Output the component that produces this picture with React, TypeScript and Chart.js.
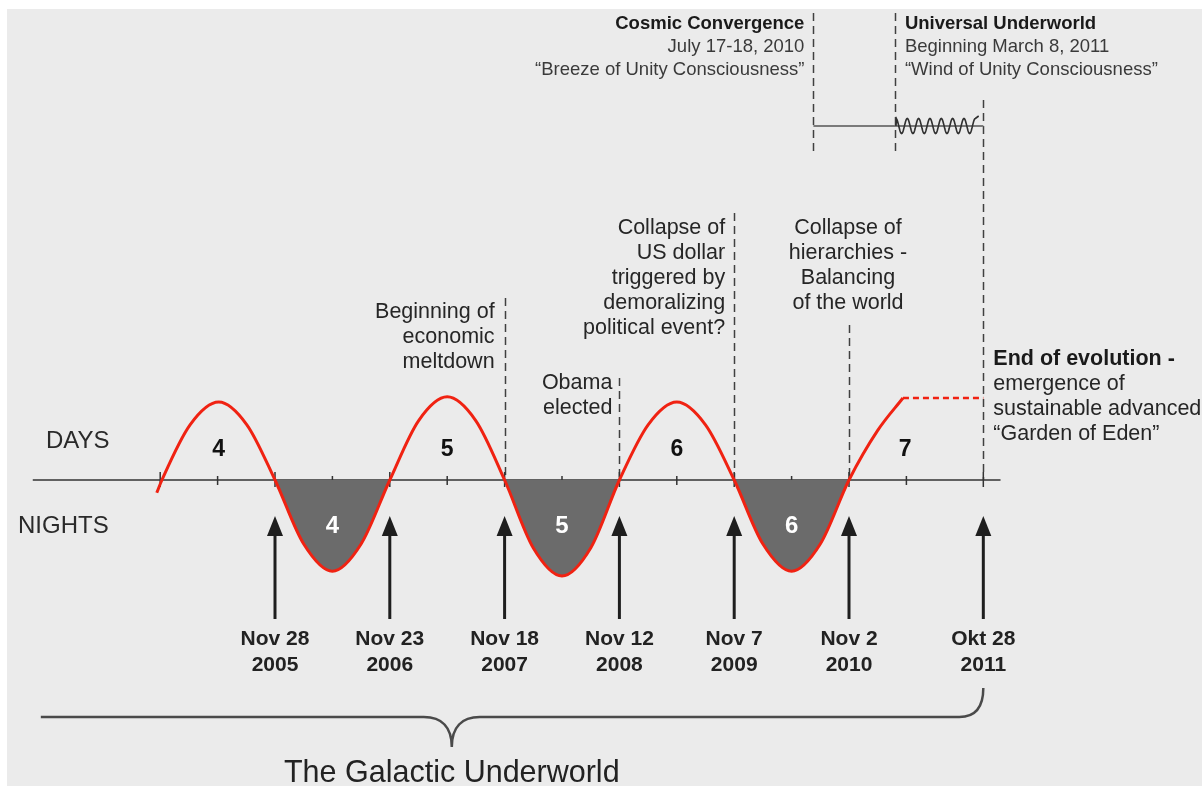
import React, { useEffect, useRef } from 'react';
import { Chart, registerables } from 'chart.js';

Chart.register(...registerables);

// ---- data (x in cycle units: one day or night ≈ one unit; 0 = Nov 28 2005) ----
const cycleX = [-1.03, -0.985, -0.74, -0.49, -0.245, 0, 0.25, 0.5, 0.75, 1, 1.25, 1.5, 1.75, 2, 2.25, 2.5, 2.75, 3, 3.25, 3.5, 3.75, 4, 4.25, 4.5, 4.75, 5, 5.25, 5.47];
const cycleY = [-0.16, 0, 0.69, 0.975, 0.69, 0, -0.8, -1.14, -0.8, 0, 0.74, 1.04, 0.74, 0, -0.85, -1.2, -0.85, 0, 0.69, 0.975, 0.69, 0, -0.8, -1.14, -0.8, 0, 0.62, 1.025];
const plateauX = [5.47, 6.17];
const plateauY = [1.025, 1.025];

const dateX = [0, 1, 2, 3, 4, 5, 6.17];
const dateMonth = ['Nov 28', 'Nov 23', 'Nov 18', 'Nov 12', 'Nov 7', 'Nov 2', 'Okt 28'];
const dateYear = ['2005', '2006', '2007', '2008', '2009', '2010', '2011'];

const dayLabels = ['4', '5', '6', '7'];
const dayX = [-0.49, 1.5, 3.5, 5.49];
const nightLabels = ['4', '5', '6'];
const nightX = [0.5, 2.5, 4.5];

const tickX = [-1, -0.5, 0, 0.5, 1, 1.5, 2, 2.5, 3, 3.5, 4, 4.5, 5, 5.5, 6.17];
const majorTickX = [-1, 0, 1, 2, 3, 4, 5, 6.17];

const cosmicX = 4.69; // July 17-18, 2010
const universalX = 5.4; // March 8, 2011
const endX = 6.17; // Okt 28 2011
const axisStartX = -2.11;
const axisEndX = 6.32;
const braceStartX = -2.04;
const braceMidX = 1.54;

const meltdownText = ['Beginning of', 'economic', 'meltdown'];
const obamaText = ['Obama', 'elected'];
const dollarText = ['Collapse of', 'US dollar', 'triggered by', 'demoralizing', 'political event?'];
const hierarchyText = ['Collapse of', 'hierarchies -', 'Balancing', 'of the world'];
const endTitle = 'End of evolution';
const endText = ['emergence of', 'sustainable advanced', '\u201CGarden of Eden\u201D'];
const cosmicText = ['Cosmic Convergence', 'July 17-18, 2010', '\u201CBreeze of Unity Consciousness\u201D'];
const universalText = ['Universal Underworld', 'Beginning March 8, 2011', '\u201CWind of Unity Consciousness\u201D'];
const galacticText = 'The Galactic Underworld';

// scale ranges
const X_MIN = -275 / 114.8;
const X_MAX = (1202 - 275) / 114.8;
const Y_MAX = 6.0;
const Y_MIN = -(787 - 480) / 80;

const RED = '#f02212';
const FF = '"Liberation Sans", Arial, Helvetica, sans-serif';

function txt(ctx: CanvasRenderingContext2D, s: string, x: number, y: number, font: string, align: CanvasTextAlign = 'left', color = '#262626', baseline: CanvasTextBaseline = 'alphabetic') {
  ctx.save();
  ctx.font = font;
  ctx.fillStyle = color;
  ctx.textAlign = align;
  ctx.textBaseline = baseline;
  ctx.fillText(s, x, y);
  ctx.restore();
}

function vdash(ctx: CanvasRenderingContext2D, x: number, y0: number, y1: number) {
  ctx.save();
  ctx.strokeStyle = '#404040';
  ctx.lineWidth = 1.5;
  ctx.setLineDash([8, 5]);
  ctx.beginPath();
  ctx.moveTo(Math.round(x) + 0.5, y0);
  ctx.lineTo(Math.round(x) + 0.5, y1);
  ctx.stroke();
  ctx.restore();
}

const decor = {
  id: 'decor',
  beforeDraw(chart: any) {
    const ctx: CanvasRenderingContext2D = chart.ctx;
    ctx.save();
    ctx.fillStyle = '#ffffff';
    ctx.fillRect(0, 0, chart.width, chart.height);
    ctx.fillStyle = '#ebebeb';
    ctx.fillRect(7, 9, chart.width - 7, chart.height - 10);
    ctx.restore();
  },
  beforeDatasetsDraw(chart: any) {
    const ctx: CanvasRenderingContext2D = chart.ctx;
    const xs = chart.scales.x;
    const ys = chart.scales.y;
    const y0 = ys.getPixelForValue(0);

    // dashed event lines
    vdash(ctx, xs.getPixelForValue(2), 298, y0);
    vdash(ctx, xs.getPixelForValue(3), 378, y0);
    vdash(ctx, xs.getPixelForValue(4), 213, y0);
    vdash(ctx, xs.getPixelForValue(5), 325, y0);
    vdash(ctx, xs.getPixelForValue(endX), 100, y0);
    vdash(ctx, xs.getPixelForValue(cosmicX), 13, 152);
    vdash(ctx, xs.getPixelForValue(universalX), 13, 152);

    // top horizontal line
    const cx = xs.getPixelForValue(cosmicX);
    const ux = xs.getPixelForValue(universalX);
    const ex = xs.getPixelForValue(endX);
    ctx.save();
    ctx.strokeStyle = '#7a7a7a';
    ctx.lineWidth = 2;
    ctx.beginPath();
    ctx.moveTo(cx, 126);
    ctx.lineTo(ex, 126);
    ctx.stroke();
    // zigzag wave
    ctx.strokeStyle = '#303030';
    ctx.lineWidth = 1.6;
    ctx.beginPath();
    const zStart = ux + 1;
    const zEnd = ex - 8;
    const cycles = 7;
    const per = (zEnd - zStart) / cycles;
    for (let i = 0; i <= 140; i++) {
      const t = i / 140;
      const px = zStart + t * (zEnd - zStart);
      const ph = t * cycles * Math.PI * 2;
      const py = 125 - 7.5 * Math.sin(ph + Math.PI / 2) + 1;
      if (i === 0) ctx.moveTo(px, 126);
      else ctx.lineTo(px, py);
    }
    ctx.lineTo(zEnd + per * 0.3, 116);
    ctx.stroke();
    ctx.restore();

    // axis line
    ctx.save();
    ctx.strokeStyle = '#333333';
    ctx.lineWidth = 1.5;
    ctx.beginPath();
    ctx.moveTo(xs.getPixelForValue(axisStartX), y0);
    ctx.lineTo(xs.getPixelForValue(axisEndX), y0);
    ctx.stroke();
    // ticks
    ctx.lineWidth = 1.5;
    tickX.forEach((v) => {
      const px = xs.getPixelForValue(v);
      const major = majorTickX.includes(v);
      ctx.beginPath();
      ctx.moveTo(px, major ? y0 - 8 : y0 - 4);
      ctx.lineTo(px, major ? y0 + 7 : y0 + 5);
      ctx.stroke();
    });
    ctx.restore();
  },
  afterDatasetsDraw(chart: any) {
    const ctx: CanvasRenderingContext2D = chart.ctx;
    const xs = chart.scales.x;
    const ys = chart.scales.y;

    // arrows + date labels
    dateX.forEach((v, i) => {
      const px = xs.getPixelForValue(v);
      ctx.save();
      ctx.strokeStyle = '#1e1e1e';
      ctx.fillStyle = '#1e1e1e';
      ctx.lineWidth = 3;
      ctx.beginPath();
      ctx.moveTo(px, 534);
      ctx.lineTo(px, 619);
      ctx.stroke();
      ctx.beginPath();
      ctx.moveTo(px, 516);
      ctx.lineTo(px + 8, 536);
      ctx.lineTo(px - 8, 536);
      ctx.closePath();
      ctx.fill();
      ctx.restore();
      txt(ctx, dateMonth[i], px, 645, `bold 21px ${FF}`, 'center', '#222');
      txt(ctx, dateYear[i], px, 671, `bold 21px ${FF}`, 'center', '#222');
    });

    // day / night numbers
    dayLabels.forEach((s, i) => {
      txt(ctx, s, xs.getPixelForValue(dayX[i]), ys.getPixelForValue(0.375), `bold 23px ${FF}`, 'center', '#111', 'middle');
    });
    nightLabels.forEach((s, i) => {
      txt(ctx, s, xs.getPixelForValue(nightX[i]), ys.getPixelForValue(-0.575), `bold 24px ${FF}`, 'center', '#ffffff', 'middle');
    });

    // side labels
    txt(ctx, 'DAYS', 46, 448, `24px ${FF}`, 'left', '#2a2a2a');
    txt(ctx, 'NIGHTS', 18, 533, `24px ${FF}`, 'left', '#2a2a2a');

    // annotations
    const f = `21.5px ${FF}`;
    const lh = 25;
    meltdownText.forEach((s, i) => txt(ctx, s, xs.getPixelForValue(2) - 10, 318 + i * lh, f, 'right'));
    obamaText.forEach((s, i) => txt(ctx, s, xs.getPixelForValue(3) - 7, 389 + i * lh, f, 'right'));
    dollarText.forEach((s, i) => txt(ctx, s, xs.getPixelForValue(4) - 9, 234 + i * lh, f, 'right'));
    hierarchyText.forEach((s, i) => txt(ctx, s, xs.getPixelForValue(5) - 1, 234 + i * lh, f, 'center'));

    const ex = xs.getPixelForValue(endX) + 10;
    ctx.save();
    ctx.font = `bold 21.5px ${FF}`;
    const w = ctx.measureText(endTitle).width;
    ctx.restore();
    txt(ctx, endTitle, ex, 365, `bold 21.5px ${FF}`, 'left', '#1a1a1a');
    txt(ctx, ' -', ex + w, 365, `bold 21.5px ${FF}`, 'left', '#1a1a1a');
    endText.forEach((s, i) => txt(ctx, s, ex, 390 + i * lh, f, 'left'));

    // top texts
    const cx = xs.getPixelForValue(cosmicX) - 9;
    const ux = xs.getPixelForValue(universalX) + 10;
    const tb = `bold 18.5px ${FF}`;
    const tr = `18.5px ${FF}`;
    cosmicText.forEach((s, i) => txt(ctx, s, cx, 29 + i * 23, i === 0 ? tb : tr, 'right', i === 0 ? '#1a1a1a' : '#3a3a3a'));
    universalText.forEach((s, i) => txt(ctx, s, ux, 29 + i * 23, i === 0 ? tb : tr, 'left', i === 0 ? '#1a1a1a' : '#3a3a3a'));

    // brace
    const bl = xs.getPixelForValue(braceStartX);
    const bm = xs.getPixelForValue(braceMidX);
    const br = xs.getPixelForValue(endX);
    ctx.save();
    ctx.strokeStyle = '#4a4a4a';
    ctx.lineWidth = 2.5;
    ctx.beginPath();
    ctx.moveTo(bl, 717);
    ctx.lineTo(bm - 28, 717);
    ctx.bezierCurveTo(bm - 10, 717, bm, 727, bm, 747);
    ctx.bezierCurveTo(bm, 727, bm + 10, 717, bm + 28, 717);
    ctx.lineTo(br - 24, 717);
    ctx.quadraticCurveTo(br, 717, br, 688);
    ctx.stroke();
    ctx.restore();
    txt(ctx, galacticText, bm, 782, `30.5px ${FF}`, 'center', '#222');
  },
};

export default function App() {
  const ref = useRef<HTMLCanvasElement>(null);
  useEffect(() => {
    const curve = cycleX.map((x, i) => ({ x, y: cycleY[i] }));
    const plateau = plateauX.map((x, i) => ({ x, y: plateauY[i] }));
    const chart = new Chart(ref.current as HTMLCanvasElement, {
      type: 'line',
      data: {
        datasets: [
          {
            label: 'Nights',
            data: curve.slice(3),
            borderColor: 'rgba(0,0,0,0)',
            borderWidth: 0,
            pointRadius: 0,
            cubicInterpolationMode: 'monotone',
            fill: { target: 'origin', above: 'rgba(0,0,0,0)', below: '#6b6b6b' },
            order: 3,
          } as any,
          {
            label: 'Days and Nights',
            data: curve,
            borderColor: RED,
            borderWidth: 3,
            pointRadius: 0,
            cubicInterpolationMode: 'monotone',
            fill: false,
            order: 1,
          },
          {
            label: 'Day 7',
            data: plateau,
            borderColor: RED,
            borderWidth: 2.5,
            borderDash: [6, 4],
            pointRadius: 0,
            fill: false,
            order: 2,
          },
        ],
      },
      options: {
        responsive: false,
        animation: false,
        devicePixelRatio: 1,
        layout: { padding: 0, autoPadding: false },
        plugins: { legend: { display: false }, tooltip: { enabled: false }, title: { display: false } },
        events: [],
        scales: {
          x: { type: 'linear', display: false, min: X_MIN, max: X_MAX },
          y: { type: 'linear', display: false, min: Y_MIN, max: Y_MAX },
        },
      },
      plugins: [decor],
    } as any);
    return () => chart.destroy();
  }, []);
  return (
    <canvas
      ref={ref}
      width={1202}
      height={787}
      style={{ position: 'fixed', left: 0, top: 0, width: 1202, height: 787, display: 'block' }}
    />
  );
}
